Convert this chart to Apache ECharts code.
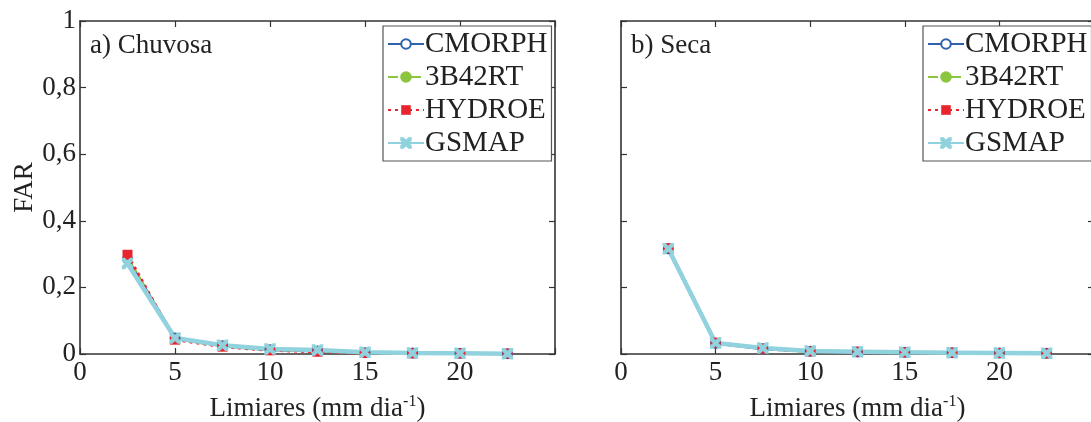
<!DOCTYPE html>
<html><head><meta charset="utf-8">
<script src="https://cdn.jsdelivr.net/npm/echarts@6/dist/echarts.min.js"></script>
<style>html,body{margin:0;padding:0;background:#fff}#c{width:1091px;height:422px}</style>
</head><body><div id="c"></div>
<script>
const thresholds = [2.5, 5, 7.5, 10, 12.5, 15, 17.5, 20, 22.5];
const seriesNames = ['CMORPH', '3B42RT', 'HYDROE', 'GSMAP'];
// a) Chuvosa
const chuvosa = {
  CMORPH: [0.285, 0.048, 0.025, 0.013, 0.009, 0.004, 0.003, 0.002, 0.001],
  '3B42RT': [0.292, 0.045, 0.023, 0.012, 0.008, 0.003, 0.002, 0.002, 0.001],
  HYDROE: [0.298, 0.043, 0.022, 0.011, 0.007, 0.003, 0.002, 0.002, 0.001],
  GSMAP:  [0.272, 0.048, 0.026, 0.015, 0.012, 0.005, 0.003, 0.002, 0.001]
};
// b) Seca
const seca = {
  CMORPH: [0.316, 0.032, 0.016, 0.008, 0.006, 0.005, 0.004, 0.003, 0.002],
  '3B42RT': [0.318, 0.035, 0.017, 0.008, 0.007, 0.005, 0.004, 0.003, 0.002],
  HYDROE: [0.318, 0.034, 0.016, 0.008, 0.007, 0.005, 0.004, 0.003, 0.002],
  GSMAP:  [0.316, 0.033, 0.018, 0.009, 0.007, 0.005, 0.004, 0.003, 0.002]
};
const panelTitles = ['a) Chuvosa', 'b) Seca'];
const yTicks = [0, 0.2, 0.4, 0.6, 0.8, 1];
const xTicks = [0, 5, 10, 15, 20, 25];

const FONT = 'Liberation Serif';
const FS = 27;
const styles = {
  CMORPH: {color: '#2e62ab', type: 'solid', width: 3, symbol: 'emptyCircle', size: 9},
  '3B42RT': {color: '#8cc63e', type: [10, 5, 3, 5], width: 2.5, symbol: 'circle', size: 7},
  HYDROE: {color: '#e8252e', type: [3, 4], width: 3, symbol: 'rect', size: 10},
  GSMAP: {color: '#90d2dd', type: 'solid', width: 4.5, symbol: 'path://M0,0 L2,0 L5,3 L8,0 L10,0 L10,2 L7,5 L10,8 L10,10 L8,10 L5,7 L2,10 L0,10 L0,8 L3,5 L0,2 Z', size: 10}
};
const grids = [
  {left: 80, top: 21, width: 475, height: 333, containLabel: false, outerBoundsMode: 'none'},
  {left: 621, top: 21, width: 473, height: 333, containLabel: false, outerBoundsMode: 'none'}
];
const axisLineStyle = {color: '#333', width: 1.6};
const xAxes = [], yAxes = [], series = [], titles = [], legends = [];
grids.forEach((g, i) => {
  xAxes.push({
    type: 'value', gridIndex: i, min: 0, max: 25, interval: 5,
    axisLine: {show: true, onZero: false, lineStyle: axisLineStyle},
    axisTick: {show: true, inside: true, length: 6, lineStyle: {color: '#333', width: 1.2}},
    splitLine: {show: false},
    axisLabel: {color: '#222', fontFamily: FONT, fontSize: FS, margin: 5,
      formatter: v => (v === 25 ? '' : String(v))},
    name: 'Limiares (mm dia{sup|-1})', nameLocation: 'middle', nameGap: 40,
    nameTextStyle: {color: '#222', fontFamily: FONT, fontSize: FS,
      rich: {sup: {fontFamily: FONT, fontSize: 16, color: '#222', padding: [0, 0, 14, 0]}}}
  });
  xAxes.push({
    type: 'value', gridIndex: i, min: 0, max: 25, interval: 5, position: 'top',
    axisLine: {show: true, onZero: false, lineStyle: axisLineStyle},
    axisTick: {show: true, inside: true, length: 6, lineStyle: {color: '#333', width: 1.2}},
    axisLabel: {show: false}, splitLine: {show: false}
  });
  yAxes.push({
    type: 'value', gridIndex: i, min: 0, max: 1, interval: 0.2,
    axisLine: {show: true, onZero: false, lineStyle: axisLineStyle},
    axisTick: {show: true, inside: true, length: 6, lineStyle: {color: '#333', width: 1.2}},
    splitLine: {show: false},
    axisLabel: {show: i === 0, color: '#222', fontFamily: FONT, fontSize: FS, margin: 4,
      formatter: v => String(+v.toFixed(1)).replace('.', ',')},
    name: i === 0 ? 'FAR' : '', nameLocation: 'middle', nameGap: 42, nameRotate: 90,
    nameTextStyle: {color: '#222', fontFamily: FONT, fontSize: FS}
  });
  yAxes.push({
    type: 'value', gridIndex: i, min: 0, max: 1, interval: 0.2, position: 'right',
    axisLine: {show: true, onZero: false, lineStyle: axisLineStyle},
    axisTick: {show: true, inside: true, length: 6, lineStyle: {color: '#333', width: 1.2}},
    axisLabel: {show: false}, splitLine: {show: false}
  });
  titles.push({text: panelTitles[i], left: g.left + 10, top: 32, padding: 0,
    textStyle: {fontFamily: FONT, fontSize: FS, fontWeight: 'normal', color: '#222'}});
  legends.push({
    data: seriesNames, orient: 'vertical',
    left: i === 0 ? 383 : 923, top: 26,
    itemWidth: 36, itemHeight: 12, itemGap: 3,
    padding: [3, 4, 3, 4],
    borderColor: '#555', borderWidth: 1.2, backgroundColor: '#fff',
    selectedMode: false,
    textStyle: {fontFamily: FONT, fontSize: 29, lineHeight: 30, color: '#222', padding: [0, 0, 0, -4]}
  });
  const data = i === 0 ? chuvosa : seca;
  seriesNames.forEach(n => {
    const s = styles[n];
    series.push({
      name: n, type: 'line', xAxisIndex: 2 * i, yAxisIndex: 2 * i,
      data: thresholds.map((x, k) => [x, data[n][k]]),
      symbol: s.symbol, symbolSize: s.size, showSymbol: true,
      lineStyle: {color: s.color, type: s.type, width: s.width},
      itemStyle: {color: s.color, borderColor: s.color, borderWidth: n === 'HYDROE' ? 0 : 1.5},
      animation: false, z: 2
    });
  });
});
const chart = echarts.init(document.getElementById('c'), null, {renderer: 'canvas'});
chart.setOption({
  backgroundColor: '#fff', animation: false,
  title: titles, legend: legends, grid: grids,
  xAxis: xAxes, yAxis: yAxes, series: series
});
</script></body></html>
